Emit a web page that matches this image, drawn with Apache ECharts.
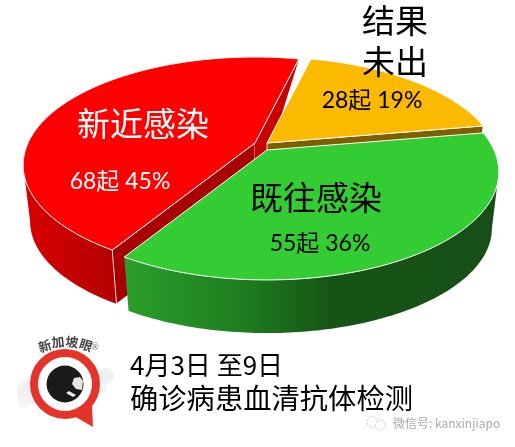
<!DOCTYPE html>
<html lang="zh">
<head>
<meta charset="utf-8" />
<title>血清抗体检测</title>
<script src="https://cdn.jsdelivr.net/npm/echarts@6/dist/echarts.min.js"></script>
<style>
html, body { margin: 0; height: 100%; background: #fff; }
#chart { width: 515px; height: 447px; }
</style>
</head>
<body>
<div id="chart"></div>
<script>
// data, in drawing order (clockwise from the cut between green and red)
var categories = ['新近感染', '结果未出', '既往感染'];
var counts = [68, 28, 55];
var percents = [45, 19, 36];

var FONT = 'Lato, "Noto Sans CJK SC", sans-serif';
var CJK = '"Noto Sans CJK SC", sans-serif';

// perspective of the tilted pie
var RX = 227, RY = 103.5, PERSP = 0.2035;
var DROP = 57, BOTTOM_SCALE = 0.97;
var START = 121.3;
// rim is visible between these angles (where the ellipse turns back)
var RIM_FROM = 11.7, RIM_TO = 168.3;

var styles = [
    { apex: [255, 143], top: '#FF0000', wall: '#A80000', wallEnd: '#C80000', text: '#fff',
      side: [[0, '#D80000'], [1, '#B40000']] },
    { apex: [267, 143], top: '#FBB900', wall: '#7F6000', text: '#000' },
    { apex: [267, 150], top: '#33CC33', text: '#000',
      side: [[0, '#2B9E2B'], [0.3, '#1F7F1F'], [0.55, '#165416'], [1, '#164F16']] }
];
var namePos = [[143, 123], [395, 41], [316, 197]];
var valuePos = [[120, 182], [372, 101], [320, 244]];

var total = counts.reduce(function (a, b) { return a + b; }, 0);

function project(apex, deg, bottom) {
    var t = deg * Math.PI / 180;
    var s = Math.sin(t), c = Math.cos(t), w = 1 - PERSP * s;
    var k = bottom ? BOTTOM_SCALE : 1;
    return [apex[0] + RX * k * c / w, apex[1] + (bottom ? DROP : 0) + RY * k * s / w];
}

function arc(apex, from, to, bottom) {
    var pts = [];
    var n = Math.max(2, Math.ceil(Math.abs(to - from)));
    for (var i = 0; i <= n; i++) {
        pts.push(project(apex, from + (to - from) * i / n, bottom));
    }
    return pts;
}

function sliceAngles(index) {
    var from = START;
    for (var i = 0; i < index; i++) from += counts[i] / total * 360;
    return [from, from + counts[index] / total * 360];
}

function renderSlice(params) {
    var i = params.dataIndex;
    var st = styles[i];
    var a = sliceAngles(i);
    var from = a[0], to = a[1];
    var apex = st.apex;
    var apexLow = [apex[0], apex[1] + DROP];
    var kids = [];

    // rim, only the part that faces the viewer
    if (st.side) {
        var f, e;
        if (to > 360) { f = RIM_FROM; e = to - 360; } else { f = from; e = RIM_TO; }
        kids.push({
            type: 'polygon',
            shape: { points: arc(apex, f, e, false).concat(arc(apex, e, f, true)) },
            style: { fill: { type: 'linear', x: 0, y: 0, x2: 1, y2: 0, colorStops: st.side.map(function (c) {
                return { offset: c[0], color: c[1] };
            }) } }
        });
    }
    // cut faces
    if (st.wall) {
        var cut = i === 1 ? to : from;
        kids.push({
            type: 'polygon',
            shape: { points: [apex, project(apex, cut, false), project(apex, cut, true), apexLow] },
            style: { fill: st.wall, stroke: '#fff', lineWidth: 0.8 }
        });
    }
    if (st.wallEnd) {
        kids.push({
            type: 'polygon',
            shape: { points: [apex, project(apex, to, false), apexLow] },
            style: { fill: st.wallEnd }
        });
    }
    // top face
    kids.push({
        type: 'polygon',
        shape: { points: [apex].concat(arc(apex, from, to, false)) },
        style: { fill: st.top, stroke: '#fff', lineWidth: 1, lineJoin: 'round' }
    });
    return { type: 'group', children: kids };
}

function renderLabels(params) {
    var i = params.dataIndex;
    var name = categories[i];
    if (i === 1) name = name.slice(0, 2) + '\n' + name.slice(2);
    return {
        type: 'group',
        children: [{
            type: 'text',
            x: namePos[i][0], y: namePos[i][1],
            style: { text: name, fill: styles[i].text, font: '33px ' + CJK,
                align: 'center', verticalAlign: 'middle', lineHeight: 41 }
        }, {
            type: 'text',
            x: valuePos[i][0], y: valuePos[i][1],
            style: { text: counts[i] + '起 ' + percents[i] + '%', fill: styles[i].text, font: '23px ' + FONT,
                align: 'center', verticalAlign: 'middle' }
        }]
    };
}

var logo = [
    { type: 'circle', shape: { cx: 30, cy: 392, r: 13 }, style: { fill: '#F1F1F1' } },
    { type: 'circle', shape: { cx: 24, cy: 402, r: 6 }, style: { fill: '#F4F4F4' } },
    { type: 'circle', shape: { cx: 106, cy: 376, r: 8 }, style: { fill: '#F0F0F0' } },
    { type: 'circle', shape: { cx: 102, cy: 388, r: 5 }, style: { fill: '#F4F4F4' } },
    { type: 'polygon', shape: { points: [[74, 416], [92, 406], [93, 427]] }, style: { fill: '#E5332A' } },
    { type: 'circle', shape: { cx: 65, cy: 384, r: 31 }, style: { fill: '#fff', stroke: '#E5332A', lineWidth: 8 } },
    { type: 'circle', shape: { cx: 65, cy: 384, r: 18.5 }, style: { fill: '#1A1A1A' } },
    { type: 'polygon', shape: { points: [[74, 378], [80, 377], [83, 381], [82, 390], [76, 389], [72, 384]] }, style: { fill: '#E4E4E4' } },
    { type: 'polygon', shape: { points: [[69, 391], [76, 395], [73, 397], [66, 393]] }, style: { fill: '#F2F2F2' } }
];
var logoChars = [['新', 45, 346, 18], ['加', 58, 342, 6], ['坡', 72, 342, -6], ['眼', 86, 345, -18]];
logoChars.forEach(function (c) {
    logo.push({
        type: 'text', x: c[1], y: c[2], rotation: c[3] * Math.PI / 180,
        style: { text: c[0], fill: '#444', font: 'bold 13px ' + CJK, align: 'center', verticalAlign: 'middle' }
    });
});
logo.push({ type: 'text', x: 95, y: 347, style: { text: '®', fill: '#777', font: '9px ' + FONT, align: 'center', verticalAlign: 'middle' } });

var caption = [
    { type: 'text', x: 130, y: 365, style: { text: '4月3日 至9日', fill: '#000', font: '26px ' + CJK, verticalAlign: 'middle' } },
    { type: 'text', x: 130, y: 398, style: { text: '确诊病患血清抗体检测', fill: '#000', font: '28.3px ' + CJK, verticalAlign: 'middle' } },
    { type: 'circle', shape: { cx: 372.5, cy: 422, r: 5.5 }, style: { fill: '#fff', stroke: '#c4c4c4', lineWidth: 1, lineDash: [2, 1.5] } },
    { type: 'circle', shape: { cx: 380.5, cy: 425, r: 5 }, style: { fill: '#fff', stroke: '#c4c4c4', lineWidth: 1, lineDash: [2, 1.5] } },
    { type: 'text', x: 393, y: 423, style: { text: '微信号: kanxinjiapo', fill: '#aaa', font: '12px ' + CJK, verticalAlign: 'middle' } }
];

var chart = echarts.init(document.getElementById('chart'));
chart.setOption({
    backgroundColor: '#fff',
    animation: false,
    graphic: { elements: logo.concat(caption) },
    series: [
        { type: 'custom', coordinateSystem: 'none', silent: true, data: counts, renderItem: renderSlice, z: 1 },
        { type: 'custom', coordinateSystem: 'none', silent: true, data: counts, renderItem: renderLabels, z: 2 }
    ]
});
</script>
</body>
</html>
